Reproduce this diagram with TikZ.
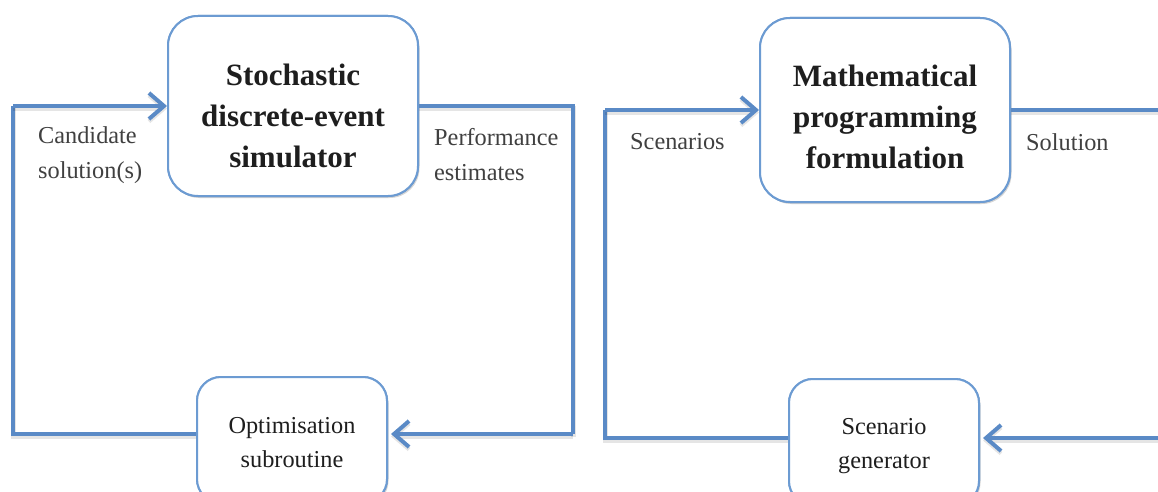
\documentclass[tikz,border=0pt]{standalone}
\usepackage{fontspec}
\setmainfont{Liberation Serif}
\usetikzlibrary{arrows.meta,shadows}
\definecolor{linkblue}{HTML}{5A8AC6}
\definecolor{boxblue}{HTML}{6C9BD2}
\definecolor{txt}{HTML}{1E1E1E}
\tikzset{
  bigbox/.style={draw=boxblue, line width=2pt, fill=white, rounded corners=30pt,
    minimum width=250pt, inner sep=0pt,
    drop shadow={shadow xshift=1.5pt, shadow yshift=-2pt, opacity=0.18}},
  smallbox/.style={draw=boxblue, line width=2pt, fill=white, rounded corners=24pt,
    minimum width=190pt, minimum height=126pt, inner sep=0pt,
    drop shadow={shadow xshift=1.5pt, shadow yshift=-2pt, opacity=0.18}},
  bigtext/.style={align=center, text=txt, inner sep=0pt,
    font=\fontsize{31}{41}\selectfont\bfseries},
  smalltext/.style={align=center, text=txt, inner sep=0pt,
    font=\fontsize{24.3}{34}\selectfont},
  lbl/.style={align=left, anchor=west, text=txt!85, inner sep=0pt,
    font=\fontsize{24.3}{35}\selectfont},
  link/.style={draw=linkblue, line width=4pt,
    preaction={draw=black, opacity=0.10, line width=5pt, transform canvas={yshift=-2.5pt}}},
  tip/.style={-{Straight Barb[length=15pt, width=26pt, line width=4pt]}}
}
\begin{document}
\begin{tikzpicture}[x=1pt, y=-1pt]
\useasboundingbox (0,0) rectangle (1158,492);
\clip (0,0) rectangle (1158,492);
\fill[white] (0,0) rectangle (1158,492);

% --- simulation-optimisation loop ---
\coordinate (lx) at (13,106);
\coordinate (rx) at (573,434);
\node[bigbox, minimum height=180pt] (sim) at (293,106) {};
\node[smallbox] (opt) at (292,440) {};

\draw[link] (opt.west |- rx) -| (lx);
\draw[link, tip] (lx) -- (sim.west);
\draw[link] (sim.east) -| (rx);
\draw[link, tip] (rx) -- ([xshift=3pt]rx -| opt.east);

\node[bigbox, minimum height=180pt] at (293,106) {};
\node[smallbox] at (292,440) {};
\node[bigtext] (simtxt) at (293,116) {Stochastic\\discrete-event\\simulator};
\node[smalltext] (opttxt) at (292,443) {Optimisation\\subroutine};
\node[lbl] (cand) at (38,155) {Candidate\\solution(s)};
\node[lbl] (perf) at (434,155) {Performance\\estimates};

% --- scenario-based optimisation loop ---
\coordinate (lx2) at (605,110);
\coordinate (rx2) at (1164,438);
\node[bigbox, minimum height=184pt] (mp) at (885,110) {};
\node[smallbox] (gen) at (884,442) {};

\draw[link] (gen.west |- rx2) -| (lx2);
\draw[link, tip] (lx2) -- (mp.west);
\draw[link] (mp.east) -| (rx2);
\draw[link, tip] (rx2) -- ([xshift=3pt]rx2 -| gen.east);

\node[bigbox, minimum height=184pt] at (885,110) {};
\node[smallbox] at (884,442) {};
\node[bigtext] (mptxt) at (885,117) {Mathematical\\programming\\formulation};
\node[smalltext] (gentxt) at (884,446) {Scenario\\generator};
\node[lbl] (scen) at (630,142) {Scenarios};
\node[lbl] (sol) at (1026,142) {Solution};
\end{tikzpicture}
\end{document}
